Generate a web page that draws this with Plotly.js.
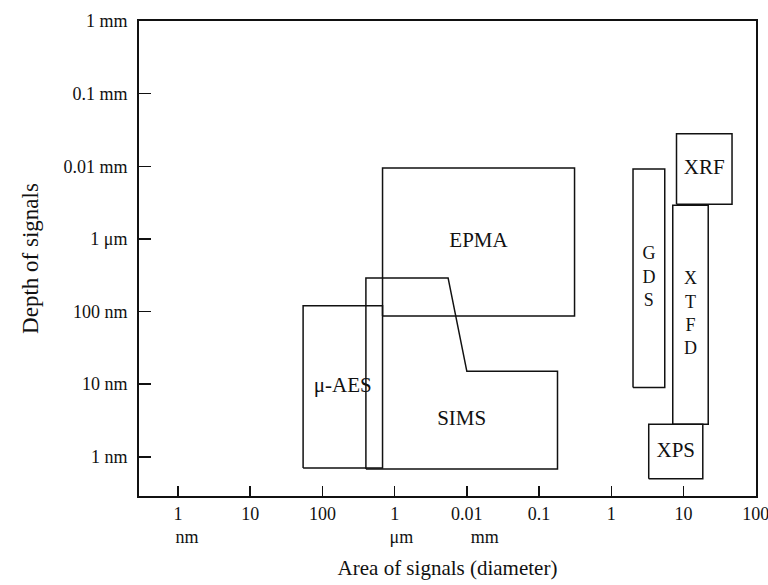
<!DOCTYPE html>
<html>
<head>
<meta charset="utf-8">
<script src="https://cdn.plot.ly/plotly-3.0.1.min.js"></script>
<style>html,body{margin:0;padding:0;background:#fff;}#chart{width:768px;height:585px;}</style>
</head>
<body>
<div id="chart"></div>
<script>
// All values in nanometres (area = diameter, depth)
const methods = ["μ-AES", "EPMA", "GDS", "XRF", "XTFD", "XPS"];
const areaMin = [54, 680, 2.0e6, 8.0e6, 7.1e6, 3.3e6];
const areaMax = [680, 310000, 5.5e6, 4.7e7, 2.2e7, 1.85e7];
const depthMin = [0.7, 87, 9, 3000, 2.8, 0.5];
const depthMax = [120, 9500, 9200, 28000, 2900, 2.8];
const labelVertical = [false, false, true, false, true, false];

// SIMS is a stepped polygon
const simsArea = [400, 400, 5500, 10000, 180000, 180000, 400];
const simsDepth = [0.68, 290, 290, 15, 15, 0.68, 0.68];
const simsLabelArea = [400, 180000];
const simsLabelDepth = [0.68, 15];

const NB = "\u00A0";
const xTickVals = [1, 10, 100, 1e3, 1e4, 1e5, 1e6, 1e7, 1e8];
const xTickText = ["1<br>" + NB.repeat(4) + "nm", "10", "100", "1<br>" + NB.repeat(3) + "μm",
                   "0.01<br>" + NB.repeat(8) + "mm", "0.1", "1", "10", "100"];
const yTickVals = [1, 10, 100, 1e3, 1e4, 1e5, 1e6];
const yTickText = ["1 nm", "10 nm", "100 nm", "1 μm", "0.01 mm", "0.1 mm", "1 mm"];

const FONT = "Liberation Serif, Times New Roman, serif";
const gmean = (a, b) => Math.sqrt(a * b);

const traces = [];
for (let i = 0; i < methods.length; i++) {
  traces.push({
    type: "scatter", mode: "lines",
    x: [areaMin[i], areaMax[i], areaMax[i], areaMin[i], areaMin[i]],
    y: [depthMin[i], depthMin[i], depthMax[i], depthMax[i], depthMin[i]],
    line: {color: "#111", width: 1.5}, hoverinfo: "skip", showlegend: false
  });
}
traces.push({
  type: "scatter", mode: "lines", x: simsArea, y: simsDepth,
  line: {color: "#111", width: 1.5}, hoverinfo: "skip", showlegend: false
});

const hx = [], hy = [], ht = [], vx = [], vy = [], vt = [];
for (let i = 0; i < methods.length; i++) {
  const cx = gmean(areaMin[i], areaMax[i]);
  const cy = gmean(depthMin[i], depthMax[i]);
  if (labelVertical[i]) {
    vx.push(cx); vy.push(cy); vt.push(methods[i].split("").join("<br>"));
  } else {
    hx.push(cx); hy.push(cy); ht.push(methods[i]);
  }
}
hx.push(gmean(simsLabelArea[0], simsLabelArea[1]));
hy.push(gmean(simsLabelDepth[0], simsLabelDepth[1]));
ht.push("SIMS");
traces.push({
  type: "scatter", mode: "text", x: hx, y: hy, text: ht,
  textfont: {family: FONT, size: 21, color: "#111"},
  hoverinfo: "skip", showlegend: false
});
traces.push({
  type: "scatter", mode: "text", x: vx, y: vy, text: vt,
  textfont: {family: FONT, size: 18, color: "#111"},
  hoverinfo: "skip", showlegend: false
});

const layout = {
  width: 768, height: 585,
  margin: {l: 139, r: 12, t: 21, b: 89},
  paper_bgcolor: "#fff", plot_bgcolor: "#fff",
  font: {family: FONT, size: 18, color: "#111"},
  xaxis: {
    type: "log", range: [-0.54, 8.004],
    tickvals: xTickVals, ticktext: xTickText,
    ticks: "inside", ticklen: 10, tickwidth: 1.5, tickcolor: "#111",
    showline: true, linewidth: 2, linecolor: "#111", mirror: true,
    showgrid: false, zeroline: false,
    tickfont: {family: FONT, size: 18, color: "#111"},
    ticklabelstandoff: 0, ticklabeloverflow: "allow",
    title: {text: "Area of signals (diameter)", font: {family: FONT, size: 21, color: "#111"}, standoff: 14}
  },
  yaxis: {
    type: "log", range: [-0.54, 6.0],
    tickvals: yTickVals, ticktext: yTickText,
    ticks: "inside", ticklen: 12, tickwidth: 1.5, tickcolor: "#111",
    showline: true, linewidth: 2, linecolor: "#111", mirror: true,
    showgrid: false, zeroline: false,
    tickfont: {family: FONT, size: 18, color: "#111"},
    ticklabelstandoff: 6, ticklabeloverflow: "allow",
    title: {text: "Depth of signals", font: {family: FONT, size: 23, color: "#111"}, standoff: 18}
  }
};

Plotly.newPlot("chart", traces, layout, {displayModeBar: false, staticPlot: true});
</script>
</body>
</html>
